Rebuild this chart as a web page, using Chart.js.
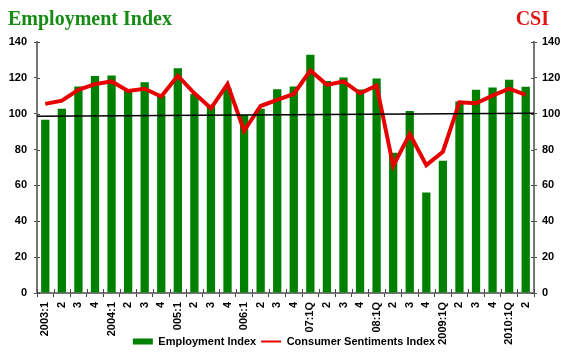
<!DOCTYPE html>
<html>
<head>
<meta charset="utf-8">
<script src="https://cdn.jsdelivr.net/npm/chart.js@4"></script>
<style>
html,body{margin:0;padding:0;background:#fff;}
#wrap{position:relative;width:568px;height:357px;}
</style>
</head>
<body>
<div id="wrap"><canvas id="c" width="568" height="357"></canvas></div>
<script>
const categories = ["2003:1","2","3","4","2004:1","2","3","4","005:1","2","3","4","006:1","2","3","4","07:1Q","2","3","4","08:1Q","2","3","4","2009:1Q","2","3","4","2010:1Q","2"];
const employmentIndex = [96.7,102.7,115.2,121,121.3,113,117.6,110,125.4,111,105,114,99.3,102.7,113.7,115.2,132.9,118.3,120.2,113.5,119.7,78.2,101.5,56,73.7,106.8,113.3,114.6,118.9,115];
const consumerSentiment = [105.5,107.3,113.3,116.5,118,112.7,113.9,109.6,121.2,111.4,103,116.5,90.5,104.3,107.7,111,124.1,116.1,118,111.4,115.7,70.9,88.7,71.3,78.8,106.4,105.8,110.1,114,110.5];
const trendValues = [98.6, 100.2];
const yTicks = [0,20,40,60,80,100,120,140];
const leftTitle = "Employment Index";
const rightTitle = "CSI";
const seriesNames = ["Employment Index","Consumer Sentiments Index"];

const tickFont = {family:"Liberation Sans, Arial, sans-serif", size:11, weight:"bold"};

const extras = {
  id:'extras',
  afterDatasetsDraw(chart){
    const ctx = chart.ctx, a = chart.chartArea, y = chart.scales.y;
    ctx.save();
    ctx.strokeStyle = '#000';
    ctx.lineWidth = 1.5;
    ctx.beginPath();
    ctx.moveTo(a.left, y.getPixelForValue(trendValues[0]));
    ctx.lineTo(a.right, y.getPixelForValue(trendValues[1]));
    ctx.stroke();
    ctx.restore();
  },
  afterDraw(chart){
    const ctx = chart.ctx, a = chart.chartArea;
    const x = chart.scales.x, y = chart.scales.y;
    ctx.save();
    ctx.strokeStyle = '#444';
    ctx.lineWidth = 1;
    ctx.beginPath();
    yTicks.forEach(v => {
      const py = Math.round(y.getPixelForValue(v)) + 0.5;
      ctx.moveTo(a.left, py); ctx.lineTo(a.left + 3, py);
      ctx.moveTo(a.right, py); ctx.lineTo(a.right - 3, py);
    });
    const step = x.getPixelForValue(1) - x.getPixelForValue(0);
    for (let i = 0; i <= categories.length; i++) {
      const px = Math.round(x.getPixelForValue(i) - step / 2) + 0.5;
      ctx.moveTo(px, a.bottom); ctx.lineTo(px, a.bottom - 4);
    }
    ctx.stroke();
    ctx.font = 'bold 20px "Liberation Serif", "Times New Roman", serif';
    ctx.textBaseline = 'alphabetic';
    ctx.textAlign = 'left';
    ctx.fillStyle = '#168c16';
    ctx.fillText(leftTitle, 8, 25);
    ctx.textAlign = 'right';
    ctx.fillStyle = '#e01414';
    ctx.fillText(rightTitle, 549, 25);
    ctx.restore();
  }
};

new Chart(document.getElementById('c'), {
  data: {
    labels: categories,
    datasets: [
      {
        type:'line', label: seriesNames[1], data: consumerSentiment, yAxisID:'y2',
        borderColor:'#e60000', backgroundColor:'#e60000', borderWidth:4,
        pointRadius:0, pointStyle:'line', tension:0, order:0
      },
      {
        type:'bar', label: seriesNames[0], data: employmentIndex, yAxisID:'y',
        backgroundColor:'#008000', borderWidth:0, pointStyle:'rect',
        categoryPercentage:1.0, barPercentage:0.5, order:1
      }
    ]
  },
  options: {
    responsive:false,
    animation:false,
    layout:{padding:{top:42, left:0, right:0, bottom:0}},
    plugins:{
      title:{display:false},
      tooltip:{enabled:false},
      legend:{
        position:'bottom',
        reverse:true,
        labels:{
          font:tickFont, color:'#000',
          usePointStyle:true, pointStyleWidth:20, boxHeight:6, padding:5,
          generateLabels(chart){
            const items = Chart.defaults.plugins.legend.labels.generateLabels(chart);
            items.forEach(it => { if (it.pointStyle === 'line') it.lineWidth = 2; });
            return items;
          }
        }
      }
    },
    scales:{
      x:{
        offset:true,
        grid:{display:true, drawOnChartArea:false, drawTicks:true, tickLength:4, color:'#444', offset:true},
        border:{display:true, color:'#777', width:2},
        ticks:{autoSkip:false, minRotation:90, maxRotation:90, font:tickFont, color:'#000', padding:5},
        afterFit(s){ s.height = 38; s._computeLabelArea = () => undefined; }
      },
      y:{
        position:'left', min:0, max:140,
        afterBuildTicks(s){ s.ticks = yTicks.map(v => ({value:v})); },
        grid:{display:true, drawOnChartArea:false, drawTicks:true, tickLength:3, color:'#444'},
        border:{display:true, color:'#777', width:2},
        ticks:{font:tickFont, color:'#000', padding:7},
        afterFit(s){ s.width = 37; }
      },
      y2:{
        position:'right', min:0, max:140,
        afterBuildTicks(s){ s.ticks = yTicks.map(v => ({value:v})); },
        grid:{display:true, drawOnChartArea:false, drawTicks:true, tickLength:3, color:'#444'},
        border:{display:true, color:'#777', width:2},
        ticks:{font:tickFont, color:'#000', padding:5},
        afterFit(s){ s.width = 34; }
      }
    }
  },
  plugins:[extras]
});
</script>
</body>
</html>
